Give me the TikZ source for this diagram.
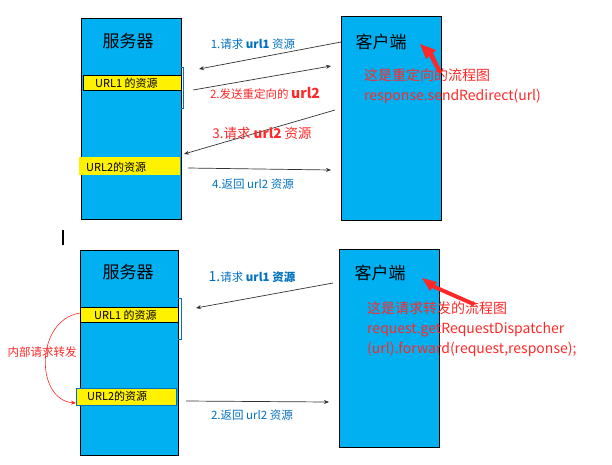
\documentclass[tikz,border=0pt]{standalone}
\usepackage{fontspec}
\setmainfont{Noto Sans CJK SC}
\usetikzlibrary{arrows.meta}
\definecolor{cy}{RGB}{0,176,240}
\definecolor{lb}{RGB}{0,112,192}
\definecolor{rd}{RGB}{255,40,40}
\tikzset{
 box/.style={draw=black,fill=cy,line width=0.8pt},
 bar/.style={anchor=west,inner sep=0pt,font=\fontsize{11}{12}\selectfont},
 arr/.style={-{Stealth[length=5pt,width=4pt]},line width=0.7pt,black!80},
 blab/.style={text=lb,font=\fontsize{11.5}{13}\selectfont},
 rlab/.style={text=rd,align=left,anchor=north west,font=\fontsize{14}{20}\selectfont,inner sep=0pt},
 fat/.style={fill=rd,draw=none},
 ttl/.style={font=\fontsize{17}{20}\selectfont}
}
\begin{document}
\begin{tikzpicture}[x=1pt,y=-1pt]
\useasboundingbox (0,0) rectangle (612,464);
% top
\draw[box] (81,18) rectangle (181,219);
\draw[box] (341,16) rectangle (441,220);
\node[ttl] (s1) at (128,41) {服务器};
\node[ttl] (c1) at (381,42) {客户端};
\draw[fill=yellow,line width=0.8pt] (83,75) rectangle (181,90);
\node[bar] (u1) at (95,83) {URL1 的资源};
\fill[yellow] (79,157) rectangle (180,175);
\node[bar] (u2) at (86,167) {URL2的资源};
\draw[lb,line width=0.5pt] (181,67) -- (183,67) -- (183,108) -- (181,108);
\coordinate (a1s) at (341,42); \coordinate (a1e) at (199,69);
\coordinate (a2s) at (193,90); \coordinate (a2e) at (331,66);
\coordinate (a3s) at (335,110); \coordinate (a3e) at (184,154);
\coordinate (a4s) at (188,168); \coordinate (a4e) at (331,170);
\draw[arr] (a1s) -- (a1e);
\draw[arr] (a2s) -- (a2e);
\draw[arr] (a3s) -- (a3e);
\draw[arr] (a4s) -- (a4e);
\node[blab] (l1) at (253,44) {1.请求 \textbf{url1} 资源};
\node[text=rd,font=\fontsize{11.5}{13}\selectfont] (l2) at (265,93) {2.发送重定向的 \textbf{\fontsize{14}{14}\selectfont url2}};
\node[text=rd,font=\fontsize{13.5}{15}\selectfont] (l3) at (262,133) {3.请求 \textbf{url2} 资源};
\node[blab] (l4) at (253,184) {4.返回 url2 资源};
\node[rlab] (t1) at (364,68) {这是重定向的流程图\\response.sendRedirect(url)};
\fill[fat] (420,44) -- (436,50) -- (433,53) -- (442,72) -- (438,73) -- (429,56) -- (426,59) -- cycle;
\fill (62,230) rectangle (64,245);
% bottom
\draw[box] (80,250) rectangle (178,455);
\draw[box] (339,249) rectangle (439,447);
\node[ttl] (s2) at (128,272) {服务器};
\node[ttl] (c2) at (380,273) {客户端};
\draw[fill=yellow,line width=0.8pt] (80,307) rectangle (178,322);
\node[bar] (v1) at (94,315) {URL1 的资源};
\fill[yellow] (76,388) rectangle (176,405);
\draw[lb,line width=0.4pt] (76,388) rectangle (176,405);
\node[bar] (v2) at (87,396) {URL2的资源};
\draw[lb,line width=0.5pt] (178,298) -- (181,298) -- (181,339) -- (178,339);
\coordinate (b1s) at (333,283); \coordinate (b1e) at (196,308);
\coordinate (b2s) at (186,401); \coordinate (b2e) at (329,402);
\draw[arr] (b1s) -- (b1e);
\draw[arr] (b2s) -- (b2e);
\node[text=lb,font=\fontsize{14}{15}\selectfont] (m1) at (252,277) {1.\fontsize{11.5}{13}\selectfont 请求 \textbf{url1 资源}};
\node[blab] (m2) at (252,415) {2.返回 url2 资源};
\draw[rd,line width=0.6pt,-{Stealth[length=5pt,width=4pt]}] (80,313) .. controls (35,320) and (35,400) .. (76,403);
\node[text=rd,font=\fontsize{11.5}{13}\selectfont,inner sep=1pt] (ff) at (42,352) {内部请求转发};
\node[rlab] (t2) at (367,301) {这是请求转发的流程图\\request.getRequestDispatcher\\(url).forward(request,response);};
\fill[fat] (422,278) -- (437,282) -- (435,285) -- (476,303) -- (473,306) -- (432,288) -- (430,291) -- cycle;
\end{tikzpicture}
\end{document}
